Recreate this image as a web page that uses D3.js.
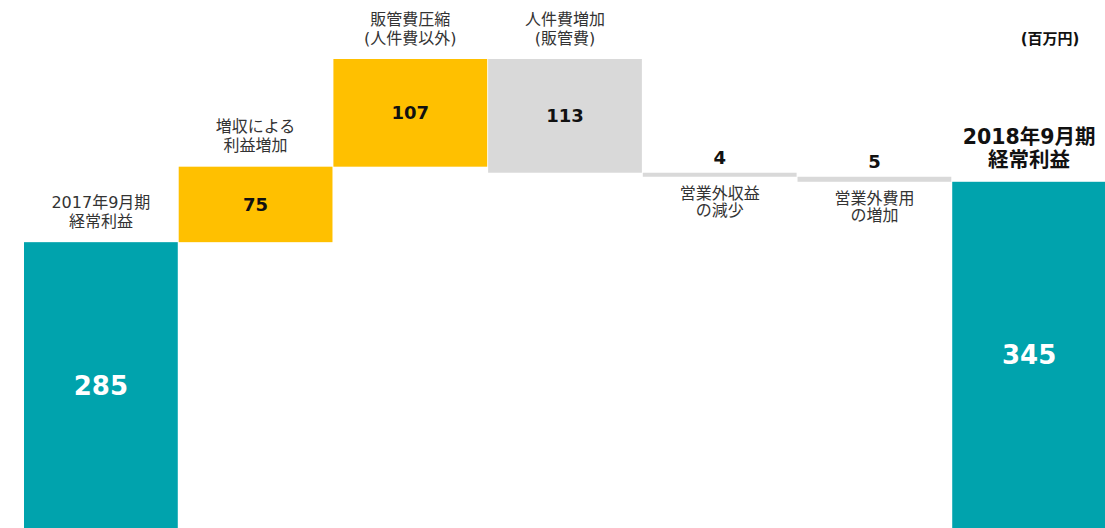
<!DOCTYPE html>
<meta charset="utf-8">
<script src="https://d3js.org/d3.v7.min.js"></script>
<style>
  body { margin: 0; background: #fff; }
</style>
<div id="plot_div"></div>
<script>
    // categories (label lines), values in 百万円
    var labels = [
        ["2017年9月期", "経常利益"],
        ["増収による", "利益増加"],
        ["販管費圧縮", "(人件費以外)"],
        ["人件費増加", "(販管費)"],
        ["営業外収益", "の減少"],
        ["営業外費用", "の増加"],
        ["2018年9月期", "経常利益"]
    ];
    var values = [285, 75, 107, -113, -4, -5, 345];
    var kinds = ["total", "up", "up", "down", "down", "down", "total"];
    var unit = "(百万円)";

    var colors = { total: "#00A3AD", up: "#FFC000", down: "#D9D9D9" };

    var width = 1105, height = 528;
    // latin glyphs from DejaVu (Verdana-like), CJK falls back to Noto
    var font = "'DejaVu Sans', Verdana, 'Noto Sans CJK JP', sans-serif";

    var svg = d3.select("#plot_div")
        .append("svg")
        .attr("width", width)
        .attr("height", height);

    // running totals for the waterfall
    var rows = [];
    var run = 0;
    values.forEach(function (v, i) {
        var lo, hi;
        if (kinds[i] == "total") { lo = 0; hi = v; run = v; }
        else { lo = Math.min(run, run + v); hi = Math.max(run, run + v); run = run + v; }
        rows.push({ i: i, v: v, kind: kinds[i], lo: lo, hi: hi, lines: labels[i] });
    });

    var x = d3.scaleBand()
        .domain(d3.range(values.length))
        .range([24, 1106])
        .paddingInner(0.006);

    var y = d3.scaleLinear()
        .domain([0, 467])
        .range([529, 59]);

    svg.selectAll("rect.bar")
        .data(rows)
        .enter().append("rect")
        .attr("class", "bar")
        .attr("x", function (d) { return x(d.i); })
        .attr("width", x.bandwidth())
        .attr("y", function (d) { return y(d.hi); })
        .attr("height", function (d) { return y(d.lo) - y(d.hi); })
        .attr("fill", function (d) { return colors[d.kind]; });

    // value labels: inside the bar if tall enough, else above it
    svg.selectAll("text.val")
        .data(rows)
        .enter().append("text")
        .attr("class", "val")
        .attr("x", function (d) { return x(d.i) + x.bandwidth() / 2; })
        .attr("y", function (d) {
            var h = y(d.lo) - y(d.hi);
            if (h > 30) return (y(d.lo) + y(d.hi)) / 2;
            return y(d.hi) - 15;
        })
        .attr("text-anchor", "middle")
        .attr("dominant-baseline", "central")
        .attr("font-family", font)
        .attr("font-weight", "bold")
        .attr("font-size", function (d) { return d.kind == "total" ? 26 : 18; })
        .attr("fill", function (d) { return d.kind == "total" ? "#fff" : "#111"; })
        .text(function (d) { return Math.abs(d.v); });

    // category labels: above the bar, or below for the thin ones
    rows.forEach(function (d) {
        var cx = x(d.i) + x.bandwidth() / 2;
        var thin = (y(d.lo) - y(d.hi)) < 30;
        var last = d.i == values.length - 1;
        var step = last ? 23 : (thin ? 17 : 19);
        var y0;
        if (thin) y0 = y(d.lo) + 17;
        else y0 = y(d.hi) - (last ? 22 : 21) - step * (d.lines.length - 1);
        var t = svg.append("text")
            .attr("text-anchor", "middle")
            .attr("font-family", font)
            .attr("font-size", last ? 20.5 : 16)
            .attr("font-weight", last ? "bold" : "normal")
            .attr("fill", last ? "#111" : "#333");
        d.lines.forEach(function (s, k) {
            t.append("tspan")
                .attr("x", cx)
                .attr("y", y0 + k * step)
                .attr("dominant-baseline", "central")
                .text(s);
        });
    });

    svg.append("text")
        .attr("x", 1050)
        .attr("y", 39)
        .attr("text-anchor", "middle")
        .attr("dominant-baseline", "central")
        .attr("font-family", font)
        .attr("font-weight", "bold")
        .attr("font-size", 15)
        .attr("fill", "#111")
        .text(unit);
</script>
